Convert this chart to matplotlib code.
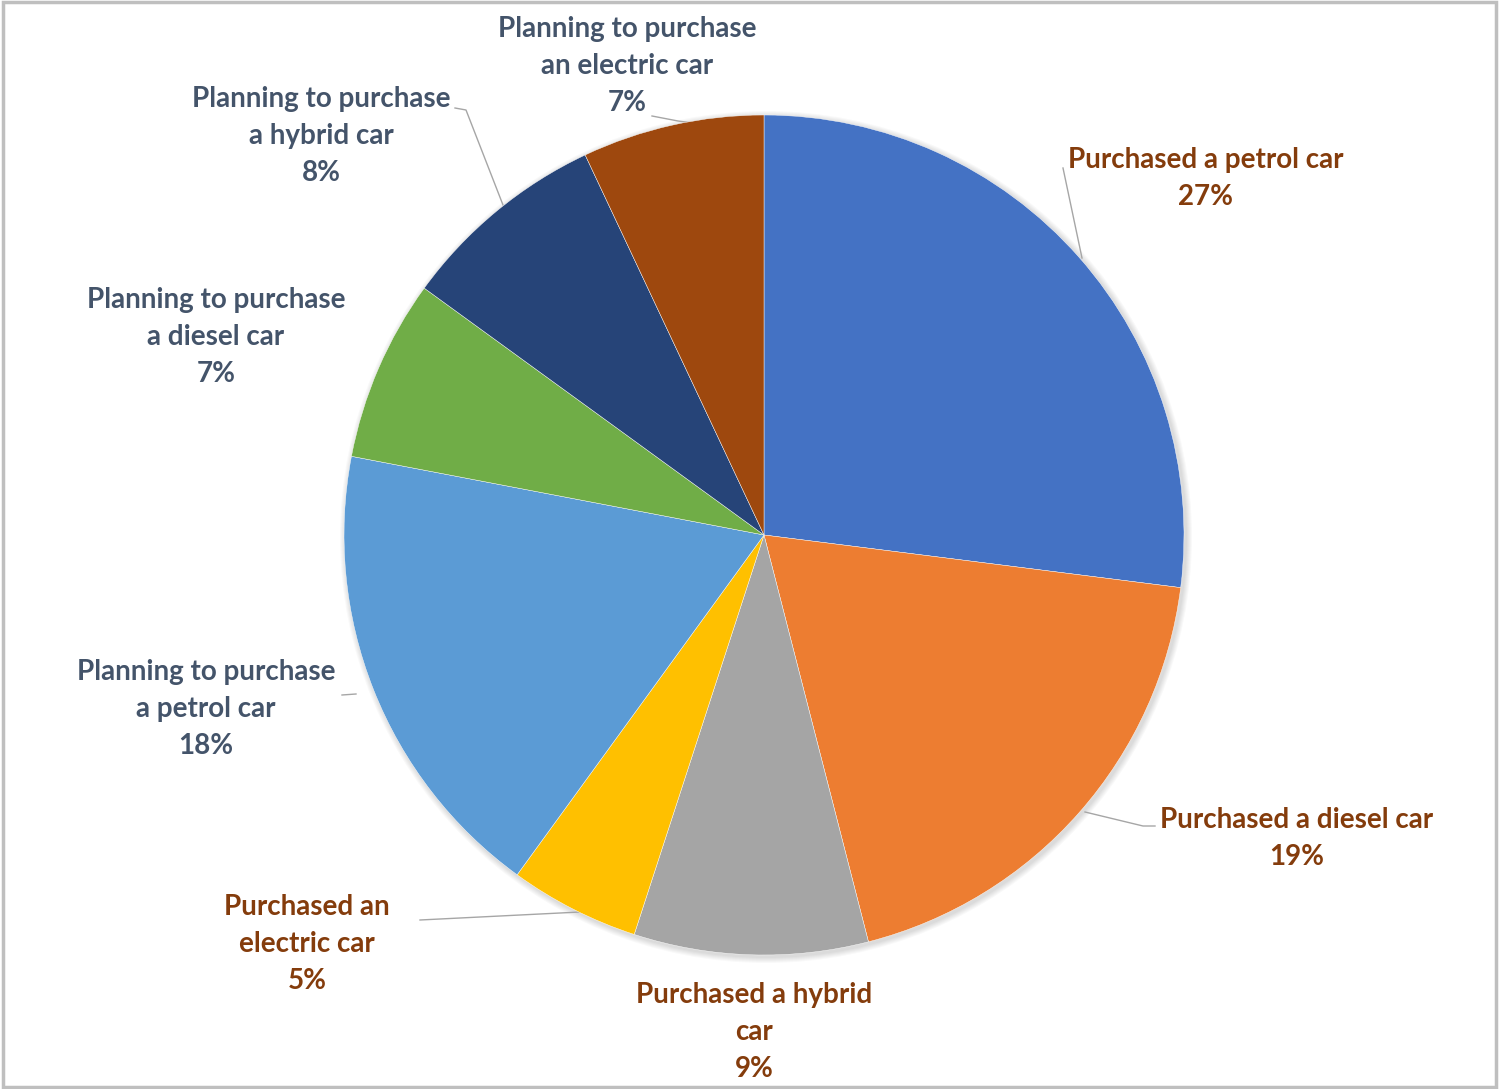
import matplotlib.pyplot as plt
from matplotlib.patches import Rectangle, Circle

# survey shares, clockwise from 12 o'clock
labels = ["Purchased a petrol car", "Purchased a diesel car",
          "Purchased a hybrid\ncar", "Purchased an\nelectric car",
          "Planning to purchase\na petrol car", "Planning to purchase\na diesel car",
          "Planning to purchase\na hybrid car", "Planning to purchase\nan electric car"]
values = [27, 19, 9, 5, 18, 7, 8, 7]
colors = ["#4472C4", "#ED7D31", "#A5A5A5", "#FFC000",
          "#5B9BD5", "#70AD47", "#264478", "#9E480E"]

W, H = 1499, 1089
fig = plt.figure(figsize=(W / 100, H / 100), dpi=100)
ax = fig.add_axes([0, 0, 1, 1])

cx, cy, r = 764, H - 535, 420

# soft drop shadow under the pie
for k in range(6):
    ax.add_patch(Circle((cx + 2, cy - 2), r + 1 + k, color="#000000",
                        alpha=0.025, linewidth=0, zorder=0))

ax.pie(values, colors=colors, startangle=90, counterclock=False,
       center=(cx, cy), radius=r, frame=True,
       wedgeprops=dict(edgecolor="white", linewidth=0.3))
ax.set_xlim(0, W)
ax.set_ylim(0, H)
ax.set_aspect("equal")
ax.axis("off")

# label centres (x, top of first line) and leader lines, pixel coords from top
label_pos = [(1206, 147), (1297, 807), (754, 982), (307, 894),
             (206, 659), (216, 287), (321, 86), (627, 16)]
leaders = [[(1063, 168), (1082, 258)],
           [(1155, 826), (1143, 826), (1085, 812)],
           None,
           [(420, 920), (580, 912)],
           [(342, 695), (356, 694)],
           None,
           [(455, 108), (466, 110), (503, 205)],
           [(652, 116), (678, 121), (700, 124)]]

for i, (lab, v) in enumerate(zip(labels, values)):
    col = "#843C0C" if lab.startswith("Purchased") else "#44546A"
    x, y = label_pos[i]
    ax.text(x, H - y, lab + "\n%d%%" % v, ha="center", va="top",
            fontsize=20, fontfamily="Lato", fontweight="bold", color=col,
            linespacing=1.53)
    if leaders[i]:
        xs = [p[0] for p in leaders[i]]
        ys = [H - p[1] for p in leaders[i]]
        ax.plot(xs, ys, color="#A6A6A6", linewidth=1, zorder=0)

# chart frame
fig.patches.append(Rectangle((0.002, 0.002), 0.996, 0.996, transform=fig.transFigure,
                             fill=False, edgecolor="#BFBFBF", linewidth=2.5))

fig.savefig("out.png", dpi=100)
